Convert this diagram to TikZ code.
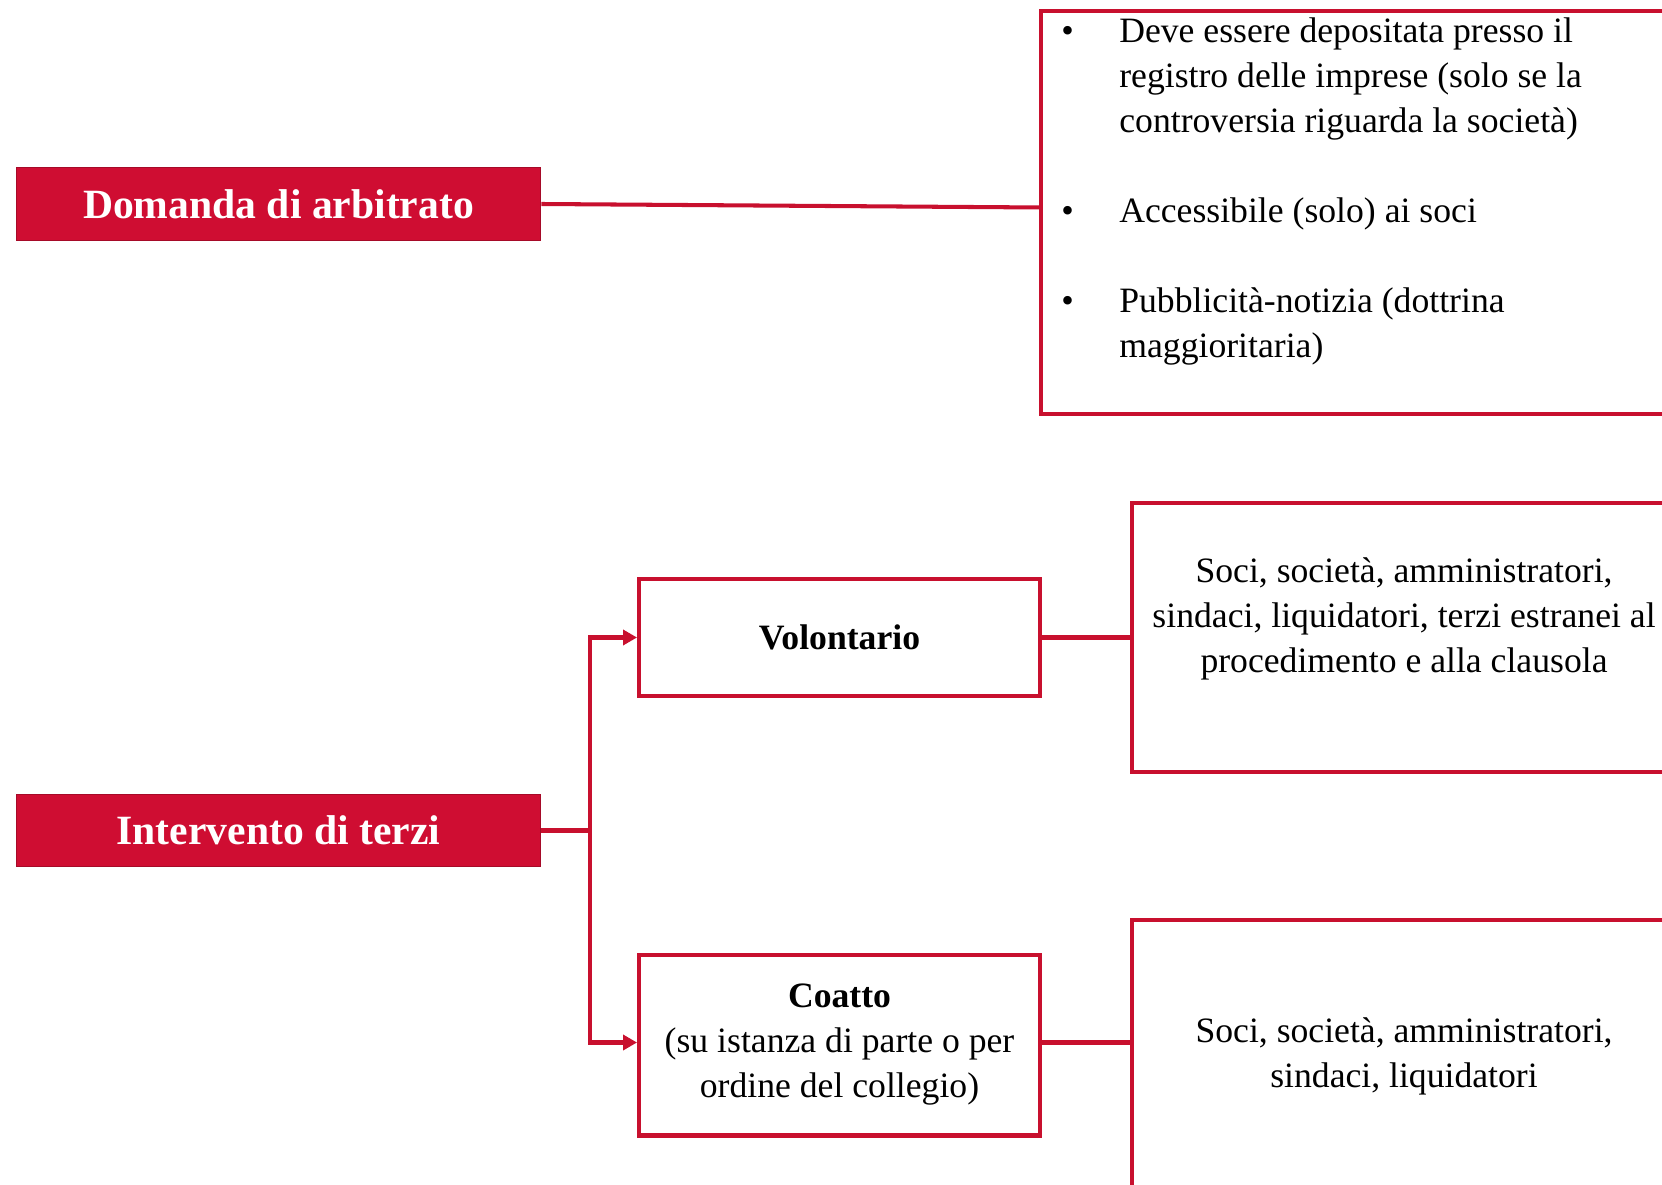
\documentclass[tikz,border=0pt]{standalone}
\usepackage{fontspec}
\setmainfont{Liberation Serif}
\usetikzlibrary{arrows.meta, positioning}
\definecolor{crimson}{RGB}{207,13,50}
\definecolor{redline}{RGB}{200,16,46}
\tikzstyle{title} = [rectangle, minimum width=10.5cm, minimum height=1.45cm, text centered, draw=crimson!80!black, line width=0.6pt, fill=crimson, text=white, font=\fontsize{23.7}{28}\selectfont\bfseries]
\tikzstyle{choice} = [rectangle, minimum width=8.02cm, align=center, draw=redline, line width=2.3pt, font=\fontsize{20.3}{25.6}\selectfont]
\tikzstyle{detail} = [rectangle, minimum width=10.88cm, align=center, draw=redline, line width=2.3pt, font=\fontsize{20.3}{25.6}\selectfont]
\tikzstyle{link} = [draw=redline, line width=2.3pt]
\tikzstyle{arrow} = [link, -{Triangle[length=0.28cm,width=0.3cm]}]

\begin{document}
\begin{tikzpicture}[x=0.02cm, y=-0.02cm]
    \clip (0,0) rectangle (1662,1185);

    % Domanda di arbitrato and its box
    \node[title] (domanda) at (278.5,204) {Domanda di arbitrato};
    \node[detail, minimum width=13cm, minimum height=8.06cm, anchor=north west] (deposito) at (1039,9) {};
    \node[anchor=north west, inner sep=0pt, font=\fontsize{20.3}{25.6}\selectfont] (depositotext) at (1061,10.5) {%
        \begin{tabular}{@{}p{1.16cm}@{}l@{}}
            \textbullet & Deve essere depositata presso il\\
                        & registro delle imprese (solo se la\\
                        & controversia riguarda la società)\\[0.9cm]
            \textbullet & Accessibile (solo) ai soci\\[0.9cm]
            \textbullet & Pubblicità-notizia (dottrina\\
                        & maggioritaria)
        \end{tabular}};
    \draw[link] (domanda.east) -- ([yshift=0.1cm]deposito.west);

    % Intervento di terzi
    \node[title] (intervento) at (278.5,830.5) {Intervento di terzi};

    % Volontario / Coatto
    \node[choice, minimum height=2.34cm] (volontario) at (839.5,637.5) {\textbf{Volontario}};
    \node[choice, minimum height=3.62cm] (coatto) at (839.5,1045) {\textbf{Coatto}\\(su istanza di parte o per\\ordine del collegio)};

    % Who can take part
    \node[detail, minimum height=5.38cm] (terzi) at (1404,637.5) {Soci, società, amministratori,\\sindaci, liquidatori, terzi estranei al\\procedimento e alla clausola\\ \mbox{}};
    \node[detail, minimum height=5.44cm] (soci) at (1404,1056) {Soci, società, amministratori,\\sindaci, liquidatori};

    % connectors
    \coordinate (fork) at (590,830.5);
    \draw[link] (intervento.east) -- (fork);
    \draw[arrow] (fork) |- (volontario.west);
    \draw[arrow] (fork) |- ([yshift=0.05cm]coatto.west);
    \draw[link] (volontario.east) -- (terzi.west);
    \draw[link] ([yshift=0.05cm]coatto.east) -- ([yshift=0.05cm]coatto.east -| soci.west);
\end{tikzpicture}
\end{document}
